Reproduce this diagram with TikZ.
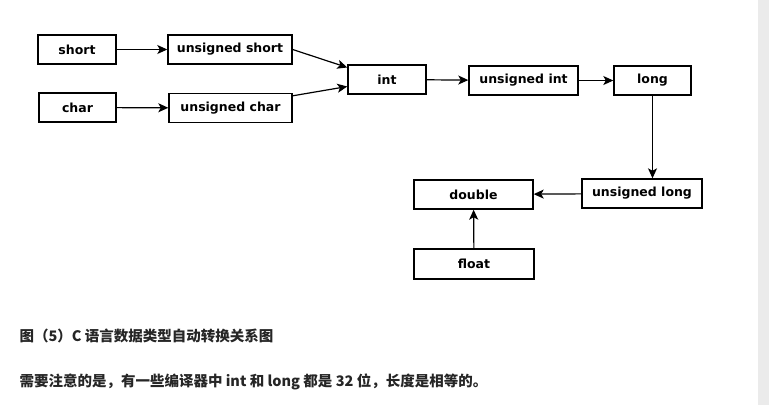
\documentclass[tikz,border=0pt]{standalone}
\usepackage{fontspec}
\usepackage{tikz}
\usetikzlibrary{arrows.meta}
\setsansfont{DejaVu Sans}
\newfontfamily\cjk{Noto Sans CJK SC}
\definecolor{stripgray}{HTML}{EBEBEB}
\definecolor{captext}{HTML}{262626}

\tikzset{
  typebox/.style={draw, line width=1.4pt, minimum height=29pt, inner sep=0pt,
    font=\sffamily\bfseries\fontsize{12.5}{15}\selectfont},
  conv/.style={line width=1.2pt, -{Stealth[length=10pt,width=9pt,inset=2.5pt]}}
}

\begin{document}
\begin{tikzpicture}[x=1pt,y=-1pt]
  \useasboundingbox (0,0) rectangle (769,405);
  \fill [stripgray] (758,0) rectangle (769,405);

  \node [typebox, minimum width=78pt] (short) at (77,49.5) {short};
  \node [typebox, minimum width=124pt] (ushort) at (230,49.5) {unsigned short};
  \node [typebox, minimum width=77pt] (char) at (77.5,107.5) {char};
  \node [typebox, minimum width=123pt] (uchar) at (230.5,108) {unsigned char};

  \node [typebox, minimum width=78pt] (int) at (387,79.5) {int};
  \node [typebox, minimum width=109pt] (uint) at (523.5,80.5) {unsigned int};
  \node [typebox, minimum width=77pt] (long) at (652.5,80.5) {long};

  \node [typebox, minimum width=120pt] (ulong) at (642,193.5) {unsigned long};
  \node [typebox, minimum width=119pt] (double) at (473.5,194.5) {double};
  \node [typebox, minimum width=120pt, minimum height=30pt] (float) at (474,264) {float};

  \draw [conv] (short) -- (ushort);
  \draw [conv] (char) -- (uchar);
  \draw [conv] (ushort.east) -- ([yshift=12pt]int.west);
  \draw [conv] ([yshift=-3pt]uchar.north east) -- ([yshift=-7pt]int.west);
  \draw [conv] (int) -- (uint);
  \draw [conv] (uint) -- (long);
  \draw [conv] (long.south) -- (long.south |- ulong.north);
  \draw [conv] (ulong) -- (double);
  \draw [conv] (float) -- (double);

  \node [anchor=west, text=captext, font=\cjk\bfseries\fontsize{14.5}{17}\selectfont] (cap) at (16,336)
    {图（5）C 语言数据类型自动转换关系图};
  \node [anchor=west, text=captext, font=\cjk\bfseries\fontsize{14.5}{17}\selectfont] (note) at (16,382)
    {需要注意的是，有一些编译器中 int 和 long 都是 32 位，长度是相等的。};
\end{tikzpicture}
\end{document}
